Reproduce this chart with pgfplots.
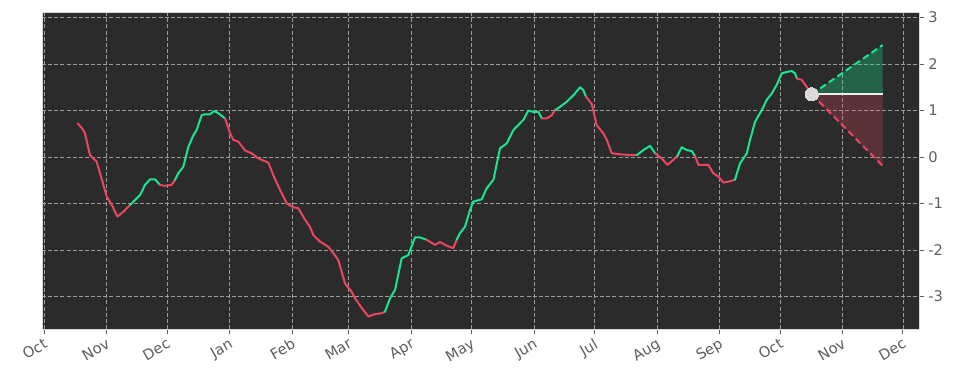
\documentclass[border=0pt]{standalone}
\usepackage{fontspec}
\setmainfont{DejaVu Sans}
\usepackage{pgfplots}
\pgfplotsset{compat=1.18}
\definecolor{bgdark}{HTML}{2B2B2B}
\definecolor{upc}{HTML}{19E58F}
\definecolor{dnc}{HTML}{E8475F}
\definecolor{labgray}{HTML}{5E5E5E}
\definecolor{gridc}{HTML}{9C9C9C}
\definecolor{dotc}{HTML}{D8D8D8}
\begin{document}
\begin{tikzpicture}
\begin{axis}[name=ax,
  scale only axis, width=657.75pt, height=237.75pt,
  xmin=-1, xmax=434, ymin=-3.70, ymax=3.12,
  axis background/.style={fill=bgdark},
  axis line style={draw=black!15},
  xtick={0,31,61,92,123,151,182,212,243,273,304,335,365,396,426},
  xticklabels={Oct,Nov,Dec,Jan,Feb,Mar,Apr,May,Jun,Jul,Aug,Sep,Oct,Nov,Dec},
  ytick={-3,-2,-1,0,1,2,3},
  yticklabel pos=right, xtick pos=lower, ytick pos=right,
  tick align=outside, major tick length=3.5pt,
  tick style={draw=labgray, line width=0.6pt},
  ticklabel style={font=\fontsize{11}{13}\selectfont, text=labgray},
  x tick label style={rotate=30, anchor=north east, inner sep=2pt},
  /pgf/number format/assume math mode=true,
  grid=major,
  major grid style={draw=gridc, dash pattern=on 3pt off 1.6pt, line width=0.5pt},
  every axis plot/.append style={line width=1.5pt, line join=round, line cap=round},
]
% prediction fills
\addplot[fill=upc, fill opacity=0.3, draw=none] coordinates {(380.8,1.35) (416,2.41) (416,1.35)} -- cycle;
\addplot[fill=dnc, fill opacity=0.25, draw=none] coordinates {(380.8,1.35) (416,1.35) (416,-0.19)} -- cycle;
\addplot[upc, dash pattern=on 5pt off 2.8pt, line cap=butt] coordinates {(380.8,1.35) (416,2.41)};
\addplot[dnc, dash pattern=on 5pt off 2.8pt, line cap=butt] coordinates {(380.8,1.35) (416,-0.19)};
\addplot[white!93!black, line width=1.4pt, line cap=butt] coordinates {(380.8,1.35) (416,1.35)};
% main curve
\addplot[dnc] coordinates {(16.7,0.725) (19.5,0.58) (20.3,0.51) (22.8,0.04) (26.1,-0.10) (27.8,-0.35) (31.1,-0.85) (33.6,-1.03) (36.4,-1.28) (39.3,-1.18) (42.7,-1.03)};
\addplot[upc] coordinates {(42.7,-1.03) (46.0,-0.89) (47.6,-0.82) (50.1,-0.60) (52.6,-0.48) (55.1,-0.48) (57.5,-0.60)};
\addplot[dnc] coordinates {(57.5,-0.60) (60.0,-0.62) (63.3,-0.60) (65.0,-0.49)};
\addplot[upc] coordinates {(65.0,-0.49) (66.6,-0.35) (69.1,-0.21) (71.6,0.22) (74.1,0.47) (75.7,0.58) (78.2,0.90) (79.9,0.92) (82.3,0.92) (84.5,0.99) (86.5,0.94) (89.8,0.83)};
\addplot[dnc] coordinates {(89.8,0.83) (92.3,0.51) (93.9,0.37) (96.4,0.33) (99.7,0.14) (103.0,0.08) (106.3,-0.03) (111.3,-0.12) (113.7,-0.39) (117.1,-0.71) (120.4,-1.00) (123.7,-1.08) (126.1,-1.10) (129.5,-1.35) (131.9,-1.50) (133.6,-1.68) (136.9,-1.82) (141.0,-1.93) (143.5,-2.07) (146.0,-2.22) (149.3,-2.72) (152.6,-2.90) (154.3,-3.04) (157.6,-3.25) (160.9,-3.43) (164.2,-3.38) (167.5,-3.36) (169.1,-3.33)};
\addplot[upc] coordinates {(169.1,-3.33) (171.6,-3.04) (174.1,-2.86) (177.4,-2.18) (180.7,-2.11) (184.0,-1.73) (186.5,-1.73) (189.8,-1.78)};
\addplot[dnc] coordinates {(189.8,-1.78) (193.9,-1.89) (196.4,-1.83) (199.8,-1.91) (203.0,-1.96) (204.7,-1.78)};
\addplot[upc] coordinates {(204.7,-1.78) (206.3,-1.64) (208.8,-1.50) (211.3,-1.14) (212.9,-0.96) (217.1,-0.91) (219.6,-0.67) (222.9,-0.49) (226.2,0.19) (229.5,0.29) (232.8,0.58) (235.3,0.69) (237.8,0.80) (240.2,1.00) (242.7,0.97) (245.2,0.97) (246.9,0.83)};
\addplot[dnc] coordinates {(246.9,0.83) (249.4,0.83) (251.8,0.90) (253.5,1.01)};
\addplot[upc] coordinates {(253.5,1.01) (256.0,1.08) (259.3,1.19) (262.6,1.33) (265.9,1.50) (267.5,1.44) (268.8,1.30)};
\addplot[dnc] coordinates {(268.8,1.30) (271.7,1.14) (274.1,0.69) (277.4,0.51) (279.1,0.37) (281.6,0.08) (285.7,0.06) (290.7,0.04) (294.0,0.04)};
\addplot[upc] coordinates {(294.0,0.04) (297.3,0.15) (300.6,0.24) (303.1,0.08)};
\addplot[dnc] coordinates {(303.1,0.08) (306.4,-0.03) (309.2,-0.17) (312.2,-0.06) (314.1,0.02)};
\addplot[upc] coordinates {(314.1,0.02) (316.3,0.21) (318.8,0.15) (321.3,0.13) (322.9,0.02)};
\addplot[dnc] coordinates {(322.9,0.02) (324.6,-0.17) (327.9,-0.17) (329.5,-0.17) (332.0,-0.35) (334.5,-0.42) (337.0,-0.55) (339.4,-0.53) (342.7,-0.49)};
\addplot[upc] coordinates {(342.7,-0.49) (345.2,-0.14) (348.6,0.08) (350.2,0.37) (352.7,0.76) (356.0,1.01) (358.5,1.23) (361.0,1.37) (363.4,1.55) (365.9,1.80) (368.4,1.83) (370.9,1.85) (372.5,1.80) (373.4,1.69)};
\addplot[dnc] coordinates {(373.4,1.69) (375.8,1.66) (378.3,1.51) (380.8,1.35)};
% current point
\addplot[only marks, color=dotc, mark=*, mark size=5pt, mark options={fill=dotc, draw=dotc, line width=0pt}] coordinates {(380.8,1.35)};
\end{axis}
\pgfresetboundingbox
\path[use as bounding box] ([shift={(-31.5pt,-39.75pt)}]ax.south west) rectangle ([shift={(33pt,9pt)}]ax.north east);
\end{tikzpicture}
\end{document}
